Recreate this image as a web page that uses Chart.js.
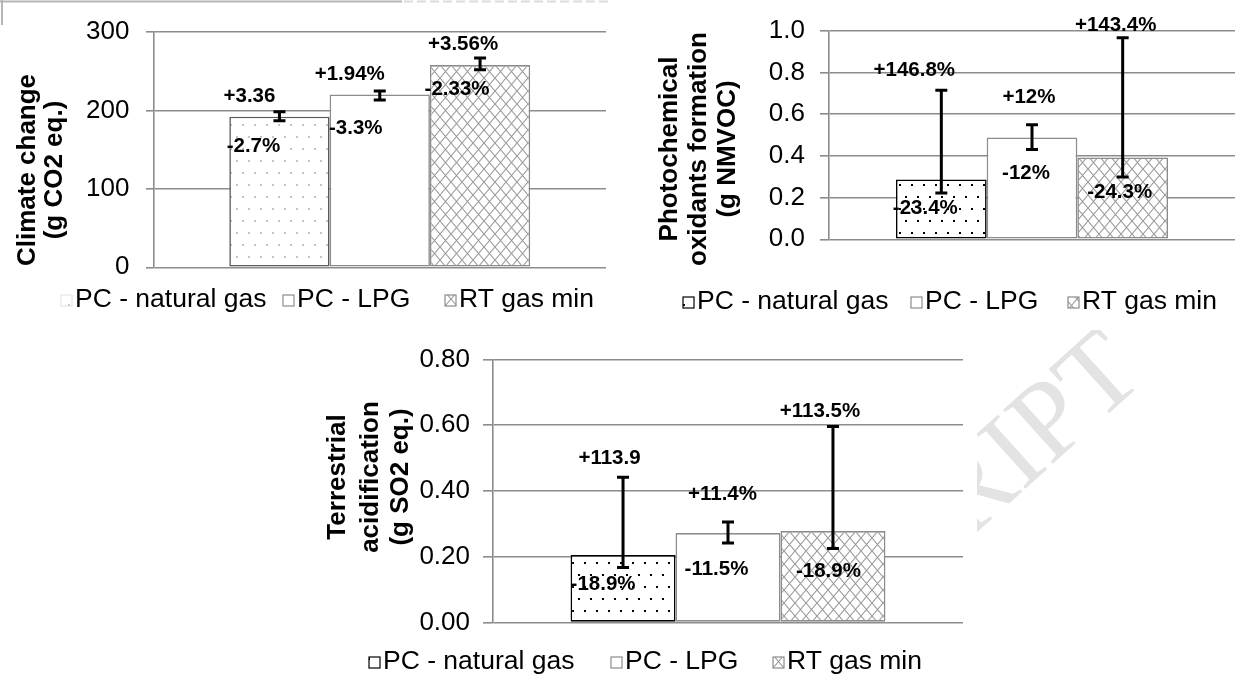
<!DOCTYPE html>
<html>
<head>
<meta charset="utf-8">
<script src="https://cdn.jsdelivr.net/npm/chart.js@4.4.0/dist/chart.umd.min.js"></script>
<style>
  html, body { margin: 0; padding: 0; background: #fff; overflow: hidden; }
  #stage { position: absolute; left: 0; top: 0; width: 1235px; height: 679px; }
  #bg { position: absolute; left: 0; top: 0; }
  .box { position: absolute; }
</style>
</head>
<body>
<div id="stage">
  <canvas id="bg" width="1235" height="679"></canvas>
  <div class="box"><canvas id="climate"></canvas></div>
  <div class="box"><canvas id="photo"></canvas></div>
  <div class="box"><canvas id="acid"></canvas></div>
</div>
<script>
const FONT = '"Liberation Sans", Arial, sans-serif';
const GRID = '#8c8c8c';

const seriesNames = ['PC - natural gas', 'PC - LPG', 'RT gas min'];

const climateValues = [192, 220.5, 258];
const climateHigh = [198.5, 225, 267];
const climateLow = [187, 213.5, 252];
const climatePlus = ['+3.36', '+1.94%', '+3.56%'];
const climateMinus = ['-2.7%', '-3.3%', '-2.33%'];
const climateTicks = ['0', '100', '200', '300'];

const photoValues = [0.287, 0.488, 0.392];
const photoHigh = [0.714, 0.549, 0.966];
const photoLow = [0.222, 0.43, 0.299];
const photoPlus = ['+146.8%', '+12%', '+143.4%'];
const photoMinus = ['-23.4%', '-12%', '-24.3%'];
const photoTicks = ['0.0', '0.2', '0.4', '0.6', '0.8', '1.0'];

const acidValues = [0.205, 0.272, 0.278];
const acidHigh = [0.442, 0.306, 0.596];
const acidLow = [0.1675, 0.242, 0.225];
const acidPlus = ['+113.9', '+11.4%', '+113.5%'];
const acidMinus = ['-18.9%', '-11.5%', '-18.9%'];
const acidTicks = ['0.00', '0.20', '0.40', '0.60', '0.80'];

// page background: the manuscript watermark peeking out right of the bottom chart
(function drawBackground() {
  const g = document.getElementById('bg').getContext('2d');
  g.save();
  g.beginPath();
  g.rect(977, 330, 258, 349);
  g.clip();
  g.translate(1147, 379);
  g.rotate(-42 * Math.PI / 180);
  g.fillStyle = '#e3e3e3';
  g.font = '112px "Liberation Serif", "DejaVu Serif", serif';
  g.textAlign = 'right';
  g.fillText('ACCEPTED MANUSCRIPT', 0, 0);
  g.restore();

  g.strokeStyle = '#b5b5b5';
  g.lineWidth = 2;
  g.beginPath();
  g.moveTo(0, 1.5); g.lineTo(402, 1.5);
  g.moveTo(2, 0); g.lineTo(2, 25);
  g.stroke();
  g.strokeStyle = '#dcdcdc';
  g.setLineDash([9, 4]);
  g.beginPath();
  g.moveTo(404, 1.5); g.lineTo(612, 1.5);
  g.stroke();
})();

function dotPattern(color) {
  // staggered dot grid, one dot every ~12px
  const c = document.createElement('canvas');
  c.width = 12; c.height = 24;
  const g = c.getContext('2d');
  g.fillStyle = '#fff';
  g.fillRect(0, 0, 12, 24);
  g.fillStyle = color;
  g.fillRect(2, 4, 2, 2);
  g.fillRect(8, 16, 2, 2);
  return g.createPattern(c, 'repeat');
}

function hatchPattern(color) {
  const c = document.createElement('canvas');
  c.width = 11; c.height = 13;
  const g = c.getContext('2d');
  g.fillStyle = '#fff';
  g.fillRect(0, 0, 11, 13);
  g.strokeStyle = color;
  g.lineWidth = 1.1;
  g.beginPath();
  g.moveTo(0, 0); g.lineTo(11, 13);
  g.moveTo(11, 0); g.lineTo(0, 13);
  g.stroke();
  return g.createPattern(c, 'repeat');
}

// error bars, +/- labels, rotated axis title and legend
const decor = {
  id: 'decor',
  afterDatasetsDraw(chart, args, o) {
    const ctx = chart.ctx;
    const y = chart.scales.y;
    chart.data.datasets.forEach((ds, i) => {
      const x = chart.getDatasetMeta(i).data[0].x;
      const yHi = y.getPixelForValue(o.high[i]);
      const yLo = y.getPixelForValue(o.low[i]);
      const cap = 6;
      ctx.save();
      ctx.strokeStyle = '#000';
      ctx.lineWidth = 3;
      ctx.beginPath();
      ctx.moveTo(x, yHi); ctx.lineTo(x, yLo);
      ctx.moveTo(x - cap, yHi); ctx.lineTo(x + cap, yHi);
      ctx.moveTo(x - cap, yLo); ctx.lineTo(x + cap, yLo);
      ctx.stroke();
      ctx.fillStyle = '#000';
      ctx.font = 'bold 20.5px ' + FONT;
      ctx.textAlign = 'center';
      ctx.textBaseline = 'middle';
      const off = o.offsets[i];
      ctx.fillText(o.plus[i], x + off[0], yHi + off[1]);
      ctx.fillText(o.minus[i], x + off[2], yLo + off[3]);
      ctx.restore();
    });
  },
  afterDraw(chart, args, o) {
    const ctx = chart.ctx;
    ctx.save();
    ctx.fillStyle = '#000';
    ctx.font = 'bold 26px ' + FONT;
    ctx.textAlign = 'center';
    ctx.textBaseline = 'middle';
    o.title.forEach((line, i) => {
      ctx.save();
      ctx.translate(o.titleX[i] - o.left, o.titleY - o.top);
      ctx.rotate(-Math.PI / 2);
      ctx.fillText(line, 0, 0);
      ctx.restore();
    });
    ctx.font = '26.5px ' + FONT;
    ctx.textAlign = 'left';
    const ly = o.legendY - o.top;
    chart.data.datasets.forEach((ds, i) => {
      const bx = o.legendX[i] - 14 - o.left;
      ctx.fillStyle = ds.backgroundColor;
      ctx.fillRect(bx, ly - 5, 11, 11);
      ctx.strokeStyle = o.legendBorder[i];
      ctx.lineWidth = 1.2;
      ctx.strokeRect(bx, ly - 5, 11, 11);
      ctx.fillStyle = '#000';
      ctx.fillText(ds.label, o.legendX[i] - o.left, ly);
    });
    ctx.restore();
  }
};

function build(id, c) {
  const canvas = document.getElementById(id);
  const box = canvas.parentNode;
  box.style.left = c.left + 'px';
  box.style.top = c.top + 'px';
  box.style.width = c.width + 'px';
  box.style.height = c.height + 'px';

  return new Chart(canvas, {
    type: 'bar',
    data: {
      labels: [''],
      datasets: seriesNames.map((name, i) => ({
        label: name,
        data: [c.values[i]],
        backgroundColor: c.fills[i],
        borderColor: c.borders[i],
        borderWidth: 1.6,
        borderSkipped: false,
        categoryPercentage: c.groupPct,
        barPercentage: 1
      }))
    },
    options: {
      responsive: true,
      maintainAspectRatio: false,
      animation: false,
      events: [],
      layout: {
        padding: {
          left: 0,
          top: c.areaTop - c.top,
          right: c.left + c.width - c.areaRight,
          bottom: c.top + c.height - c.areaBottom
        }
      },
      scales: {
        x: { display: false },
        y: {
          min: 0,
          max: c.max,
          afterFit: (s) => { s.width = c.areaLeft - c.left; },
          ticks: {
            stepSize: c.step,
            color: '#000',
            padding: c.tickPad,
            font: { family: FONT, size: 26 },
            callback: (v, i) => c.ticks[i]
          },
          grid: { color: GRID, lineWidth: 1.6, tickLength: c.tickLen },
          border: { color: GRID, width: 1.6 }
        }
      },
      plugins: {
        legend: { display: false },
        tooltip: { enabled: false },
        decor: {
          left: c.left, top: c.top,
          high: c.high, low: c.low, plus: c.plus, minus: c.minus, offsets: c.offsets,
          title: c.title, titleX: c.titleX, titleY: c.titleY,
          legendX: c.legendX, legendY: c.legendY, legendBorder: c.legendBorder
        }
      }
    },
    plugins: [decor]
  });
}

build('climate', {
  left: 0, top: 0, width: 614, height: 330,
  areaLeft: 153.5, areaRight: 606, areaTop: 27.3, areaBottom: 267.3,
  tickLen: 7.5, tickPad: 16.5, max: 300, step: 100, ticks: climateTicks, groupPct: 0.665,
  values: climateValues, high: climateHigh, low: climateLow, plus: climatePlus, minus: climateMinus,
  offsets: [[-30, -15, -26, 25.5], [-30, -17, -24, 28], [-17, -13.6, -23, 20]],
  fills: [dotPattern('#c4c4c4'), '#fff', hatchPattern('#9a9a9a')],
  borders: ['#595959', GRID, GRID],
  legendBorder: ['#e6e6e6', GRID, GRID],
  title: ['Climate change', '(g CO2 eq.)'], titleX: [28, 55], titleY: 170,
  legendX: [75, 297, 459], legendY: 300
});

build('photo', {
  left: 615, top: 0, width: 620, height: 330,
  areaLeft: 829, areaRight: 1235, areaTop: 22.7, areaBottom: 239.3,
  tickLen: 9, tickPad: 15, max: 1.0, step: 0.2, ticks: photoTicks, groupPct: 0.67,
  values: photoValues, high: photoHigh, low: photoLow, plus: photoPlus, minus: photoMinus,
  offsets: [[-27, -19.6, -16, 15.7], [-3, -27.5, -6, 24], [-7, -12.7, -3, 15.7]],
  fills: [dotPattern('#000'), '#fff', hatchPattern('#999')],
  borders: ['#000', GRID, GRID],
  legendBorder: ['#000', GRID, GRID],
  title: ['Photochemical', 'oxidants formation', '(g NMVOC)'], titleX: [670, 699, 728], titleY: 149,
  legendX: [697, 925, 1082], legendY: 302
});

build('acid', {
  left: 300, top: 330, width: 677, height: 349,
  areaLeft: 493, areaRight: 963, areaTop: 359.5, areaBottom: 622.5,
  tickLen: 10, tickPad: 13, max: 0.8, step: 0.2, ticks: acidTicks, groupPct: 0.67,
  values: acidValues, high: acidHigh, low: acidLow, plus: acidPlus, minus: acidMinus,
  offsets: [[-13.5, -19, -20, 17], [-5.5, -27.6, -11.5, 26.4], [-13, -15.5, -4.5, 22.8]],
  fills: [dotPattern('#000'), '#fff', hatchPattern('#999')],
  borders: ['#000', GRID, GRID],
  legendBorder: ['#000', GRID, GRID],
  title: ['Terrestrial', 'acidification', '(g SO2 eq.)'], titleX: [338, 370.5, 400.5], titleY: 477,
  legendX: [383, 625, 787], legendY: 662
});
</script>
</body>
</html>
